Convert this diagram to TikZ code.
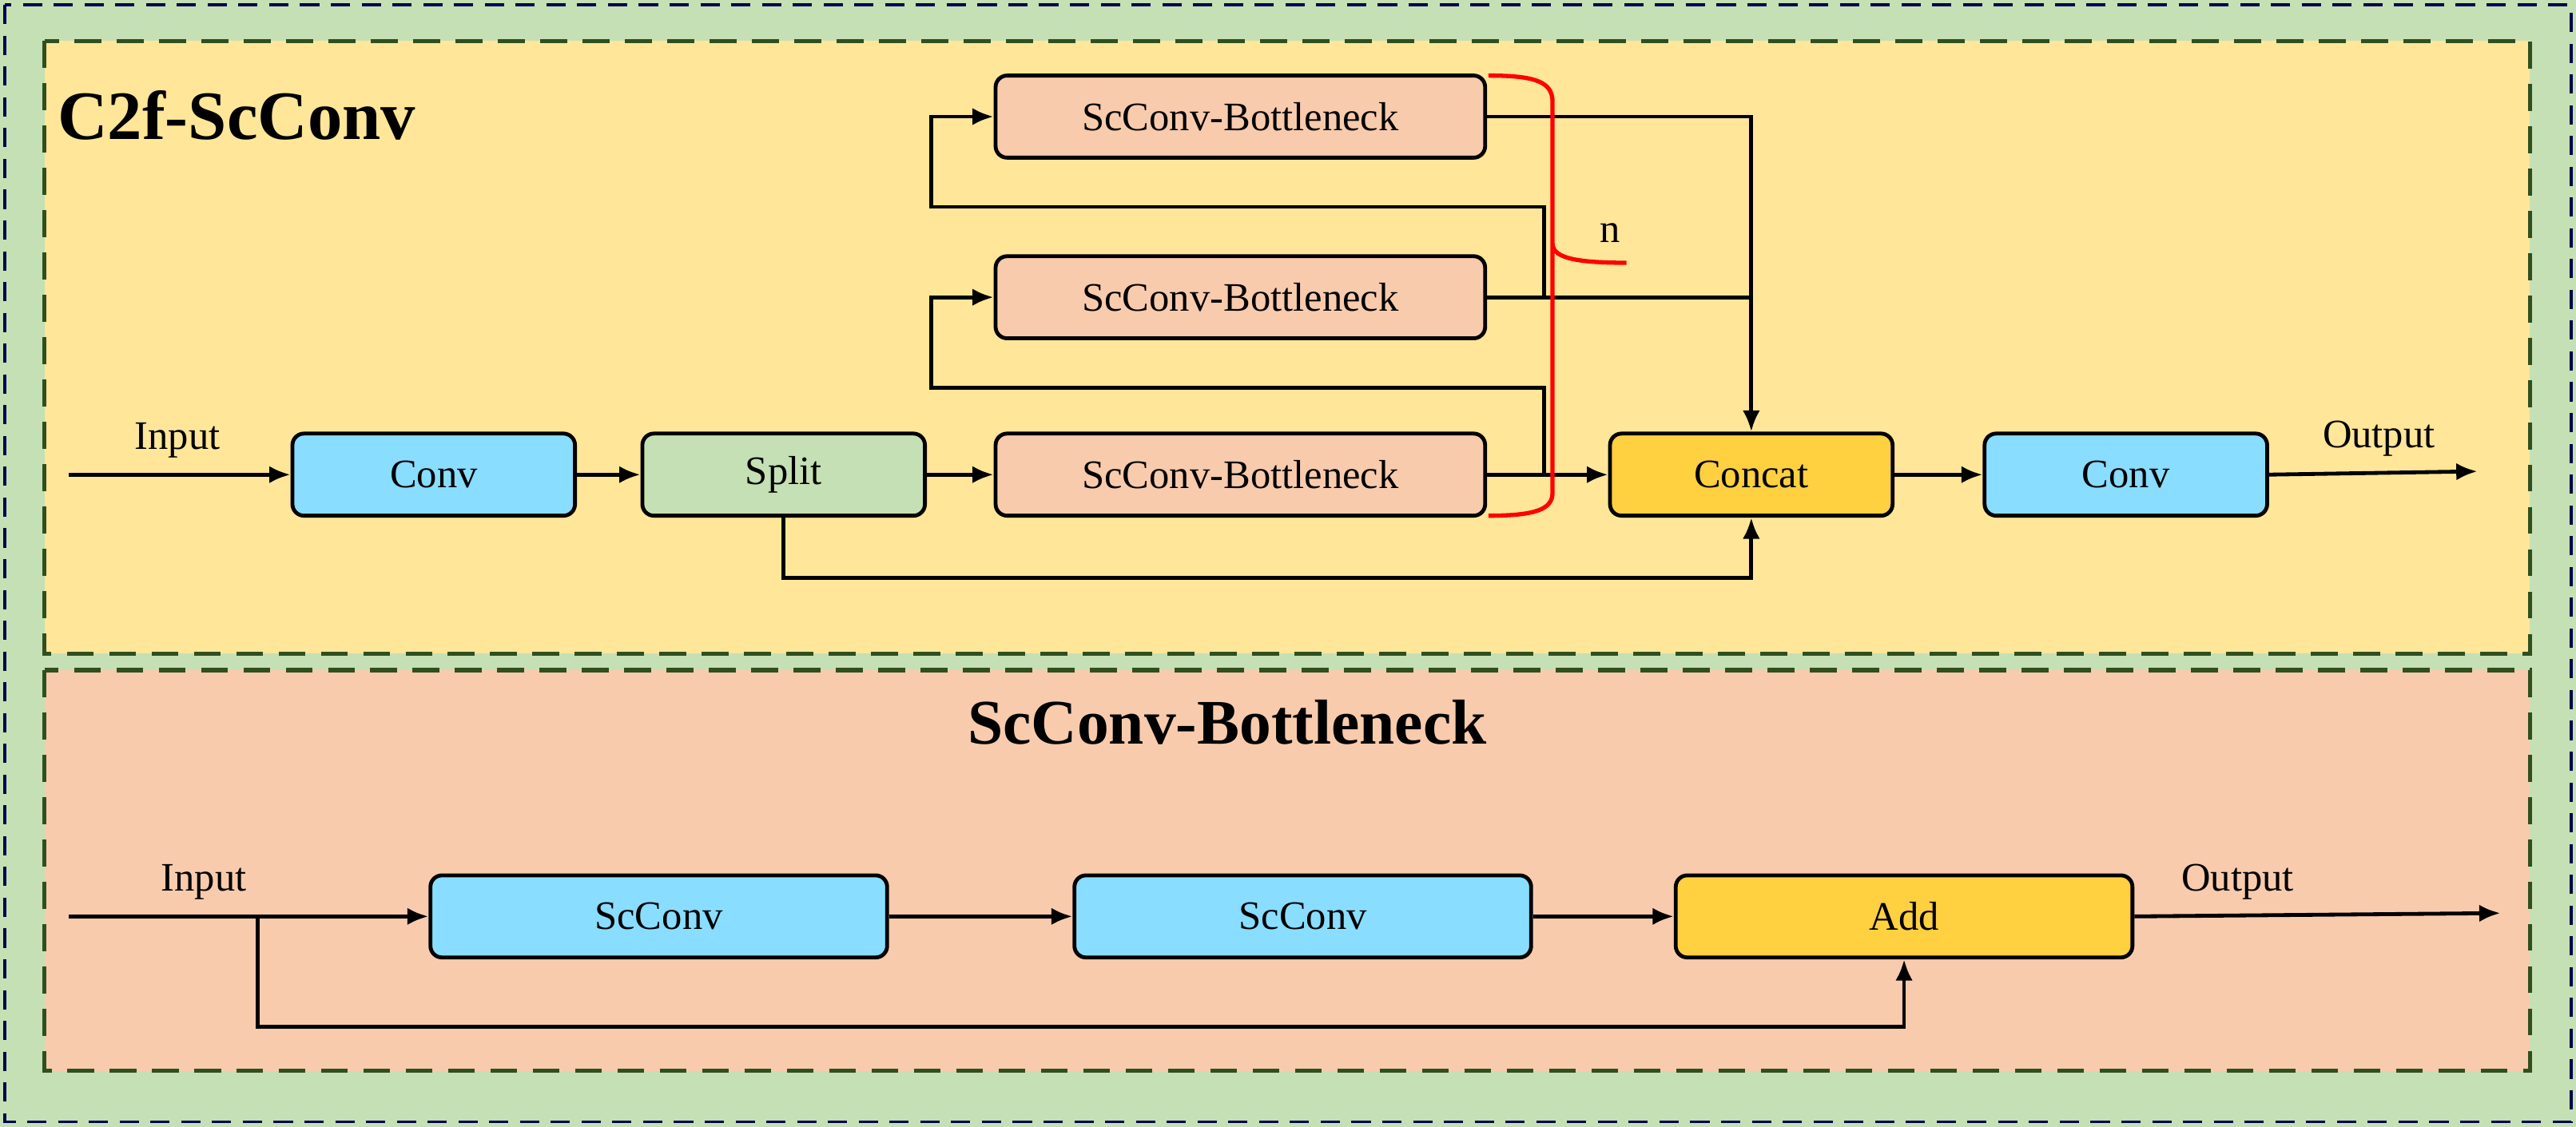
\documentclass[tikz,border=0pt]{standalone}
\usepackage{fontspec}
\setmainfont{Liberation Serif}
\usetikzlibrary{arrows.meta}
\definecolor{gbg}{HTML}{C5E0B4}
\definecolor{ybg}{HTML}{FFE699}
\definecolor{pbg}{HTML}{F8CBAD}
\definecolor{cblue}{HTML}{89DDFF}
\definecolor{cgold}{HTML}{FFD040}
\definecolor{dgreen}{HTML}{2F4F1F}
\begin{document}
\begin{tikzpicture}[x=0.03cm,y=-0.03cm,
  box/.style={draw=black,line width=2pt,rounded corners=6pt,minimum height=50*0.03cm,font=\fontsize{21}{24}\selectfont},
  w172/.style={minimum width=172*0.03cm},
  w298/.style={minimum width=298*0.03cm},
  w278/.style={minimum width=278*0.03cm},
  ln/.style={line width=2pt},
  ar/.style={line width=2pt,-{Latex[length=11pt,width=9pt]}},
  lab/.style={font=\fontsize{21}{24}\selectfont},
  panel/.style={line width=2.2pt,dash pattern=on 14pt off 8pt,draw=dgreen}]
\useasboundingbox (0,0) rectangle (1568,686);
\fill[gbg] (0,0) rectangle (1568,686);
\draw[line width=1.5pt,draw=black!70!blue,dash pattern=on 10pt off 6pt] (3,3) rectangle (1565,683);
\draw[panel,fill=ybg] (27,25) rectangle (1540,398);
\draw[panel,fill=pbg] (27,408) rectangle (1540,652);
\node[font=\fontsize{36}{40}\selectfont\bfseries] (t1) at (144,70) {C2f-ScConv};
\node[font=\fontsize{33}{36}\selectfont\bfseries] (t2) at (747,440) {ScConv-Bottleneck};
% top nodes
\node[box,w172,fill=cblue] (c1) at (264,289) {Conv};
\node[box,w172,fill=gbg] (sp) at (477,289) {Split};
\node[box,w298,fill=pbg] (b1) at (755,71) {ScConv-Bottleneck};
\node[box,w298,fill=pbg] (b2) at (755,181) {ScConv-Bottleneck};
\node[box,w298,fill=pbg] (b3) at (755,289) {ScConv-Bottleneck};
\node[box,w172,fill=cgold] (cc) at (1066,289) {Concat};
\node[box,w172,fill=cblue] (c2) at (1294,289) {Conv};
\coordinate (in1) at (42,289);
\coordinate (out1) at (1508,287);
\node[lab] (li1) at (108,268) {Input};
\node[lab] (lo1) at (1448,267) {Output};
\draw[ar] (in1) -- (c1);
\draw[ar] (c1) -- (sp);
\draw[ar] (sp) -- (b3);
\draw[ar] (b3) -- (cc);
\draw[ar] (cc.east) -- (c2.west);
\draw[ar] (c2.east) -- (out1);
\draw[ar] (sp.south) -- (477,352) -| (cc.south);
\draw[ar] (940,289) -- (940,236) -- (567,236) |- (b2.west);
\draw[ar] (940,181) -- (940,126) -- (567,126) |- (b1.west);
\draw[ln] (b2.east) -- (1066,181);
\draw[ar] (b1.east) -| (cc.north);
\draw[red,line width=2.2pt] (906,46) .. controls (935,46) and (945,50) .. (945,62)
  -- (945,148) .. controls (945,156) and (955,160) .. (990,160)
  (945,148) .. controls (945,164) and (945,166) .. (945,172)
  -- (945,300) .. controls (945,310) and (935,314) .. (906,314);
\node[lab] (nn) at (980,142) {n};
% bottom
\node[box,w278,fill=cblue] (s1) at (401,558) {ScConv};
\node[box,w278,fill=cblue] (s2) at (793,558) {ScConv};
\node[box,w278,fill=cgold] (ad) at (1159,558) {Add};
\coordinate (in2) at (42,558);
\coordinate (out2) at (1522,556);
\node[lab] (li2) at (124,537) {Input};
\node[lab] (lo2) at (1362,537) {Output};
\draw[ar] (in2) -- (s1);
\draw[ar] (s1) -- (s2);
\draw[ar] (s2) -- (ad);
\draw[ar] (ad.east) -- (out2);
\draw[ar] (157,558) -- (157,625) -| (ad.south);
\end{tikzpicture}
\end{document}
